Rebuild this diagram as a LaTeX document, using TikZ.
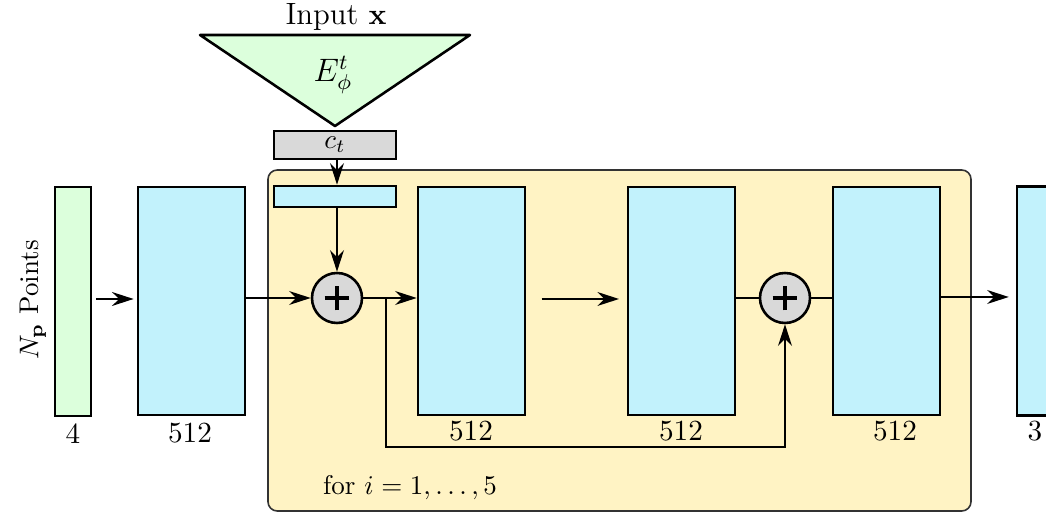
\documentclass[tikz,border=0pt]{standalone}
\usepackage{xcolor}
\usepackage{tikz}
\usetikzlibrary{arrows.meta,positioning,calc}
\usepackage{amsmath}
\definecolor{netBlue}{HTML}{C2F2FC}
\definecolor{netGreen}{HTML}{DCFFDC}
\definecolor{netGrey}{HTML}{D9D9D9}
\definecolor{netYellow}{HTML}{FFF3C4}
\definecolor{netFrame}{HTML}{333333}
\tikzset{
  capa/.style={draw=black, line width=0.95pt, fill=#1, inner sep=0pt, minimum width=13.91mm, minimum height=29.64mm},
  barra/.style={draw=black, line width=0.95pt, fill=#1, inner sep=0pt, minimum width=4.68mm, minimum height=29.77mm},
  cond/.style={draw=black, line width=0.95pt, fill=#1, inner sep=0pt, minimum width=15.86mm},
  suma/.style={draw=black, line width=0.95pt, circle, fill=netGrey, inner sep=0pt, minimum size=6.5mm,
    path picture={\draw[line width=1.3pt] ([xshift=-1.6mm]path picture bounding box.center) -- ([xshift=1.6mm]path picture bounding box.center);
                  \draw[line width=1.3pt] ([yshift=-1.6mm]path picture bounding box.center) -- ([yshift=1.6mm]path picture bounding box.center);}},
  dimlab/.style={font=\fontsize{10.8}{13}\selectfont, inner sep=1pt},
  arrflow/.style={-{Stealth[length=2.8mm, width=1.8mm]}, line width=0.9pt},
  linea/.style={line width=0.9pt},
  contenedor/.style={draw=netFrame, semithick, rounded corners=1.2mm, fill=netYellow},
}
\begin{document}
\begin{tikzpicture}[x=0.13mm, y=-0.13mm]
\useasboundingbox (0,0) rectangle (1046,513);
\begin{scope}
\clip (0,0) rectangle (1046,513);

% bloque repetido
\draw[contenedor] (268,170) rectangle (971,511);
\node[inner sep=1pt] (loop) at (410,488) {for $i=1,\ldots,5$};

% codificador de la entrada
\node[font=\fontsize{11.4}{13}\selectfont, inner sep=1pt] (inx) at (336,17) {Input $\mathbf{x}$};
\draw[line width=0.95pt, fill=netGreen, line join=round] (200,35) -- (470,35) -- (335,126) -- cycle;
\node[font=\large, inner sep=0pt] (enc) at (333,75) {$E^t_\phi$};
\node[cond=netGrey, minimum height=3.64mm] (ct) at (335,145) {$c_t$};
\node[cond=netBlue, minimum height=2.73mm] (cp) at (335,196.5) {};

% capas
\node[barra=netGreen] (inp) at (73,301.5) {};
\node[capa=netBlue] (h1) at (191.5,301) {};
\node[capa=netBlue] (h2) at (471.5,301) {};
\node[capa=netBlue] (h3) at (681.5,301) {};
\node[capa=netBlue] (h4) at (886.5,301) {};
\node[barra=netBlue] (out) at (1035,301) {};
\node[suma] (s1) at (337,298) {};
\node[suma] (s2) at (785,298) {};

\node[rotate=90] (np) at (33,300) {$N_{\mathbf{p}}$ Points};
\node[dimlab] (l0) at (73,434) {4};
\node[dimlab] (l1) at (190,433) {512};
\node[dimlab] (l2) at (471,431) {512};
\node[dimlab] (l3) at (681,431) {512};
\node[dimlab] (l4) at (895,431) {512};
\node[dimlab] (l5) at (1035,431) {3};

% conexiones
\draw[arrflow, shorten <=0.5mm, shorten >=0.4mm] (inp.east |- 0,299) -- (h1.west |- 0,299);
\draw[arrflow] (h1.east |- s1) -- (s1);
\draw[arrflow] (s1) -- (h2.west |- s1);
\draw[arrflow, shorten <=2mm, shorten >=1mm] (h2.east |- 0,299) -- (h3.west |- 0,299);
\draw[linea] (h3.east |- s2) -- (s2) -- (h4.west |- s2);
\draw[arrflow, shorten >=0.9mm] (h4.east |- 0,297) -- (out.west |- 0,297);
\draw[arrflow] (ct.south -| s1) -- (cp.north -| s1);
\draw[arrflow] (cp.south -| s1) -- (s1);
\coordinate (sk) at (386,298);
\coordinate (skb) at (386,447);
\draw[arrflow] (sk) -- (skb) -| (s2.south);
\end{scope}
\end{tikzpicture}
\end{document}
